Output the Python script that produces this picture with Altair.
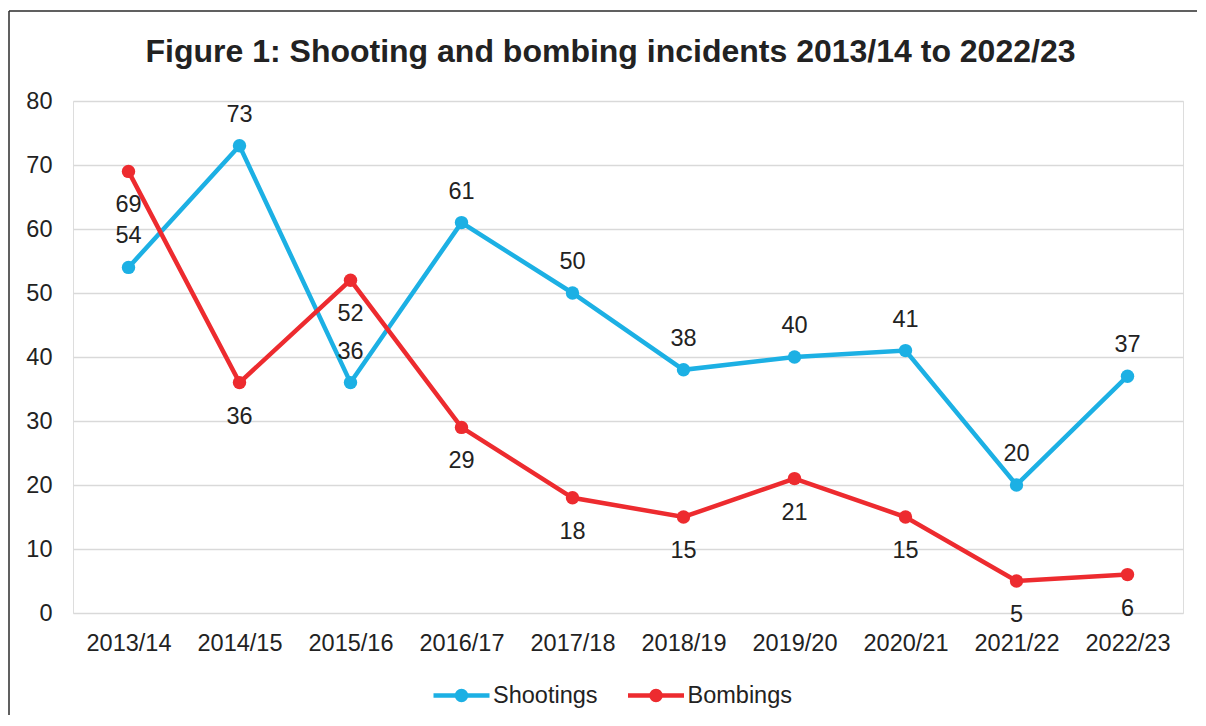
import altair as alt
import pandas as pd

years = ["2013/14", "2014/15", "2015/16", "2016/17", "2017/18",
         "2018/19", "2019/20", "2020/21", "2021/22", "2022/23"]
shootings = [54, 73, 36, 61, 50, 38, 40, 41, 20, 37]
bombings = [69, 36, 52, 29, 18, 15, 21, 15, 5, 6]
series_names = ["Shootings", "Bombings"]
series_colors = ["#1cb0e4", "#ed2b2f"]
y_ticks = [0, 10, 20, 30, 40, 50, 60, 70, 80]
title_text = "Figure 1: Shooting and bombing incidents 2013/14 to 2022/23"

rows = []
for yr, s, b in zip(years, shootings, bombings):
    rows.append({"year": yr, "series": "Shootings", "value": s})
    rows.append({"year": yr, "series": "Bombings", "value": b})
df = pd.DataFrame(rows)

FONT = "Liberation Sans"
TXT = "#222222"
FS = 23.5

x_enc = alt.X("year:N", sort=years, scale=alt.Scale(padding=0.5),
              axis=alt.Axis(title=None, labelAngle=0, domain=False, ticks=False,
                            labelPadding=18, labelFontSize=FS, labelColor=TXT,
                            labelFont=FONT, grid=False))
y_enc = alt.Y("value:Q", scale=alt.Scale(domain=[0, 80], nice=False, zero=True),
              axis=alt.Axis(title=None, values=y_ticks, domain=False, ticks=False,
                            labelPadding=21, labelFontSize=FS, labelColor=TXT,
                            labelFont=FONT, grid=True, gridColor="#d9d9d9",
                            gridWidth=1.5))
cscale = alt.Scale(domain=series_names, range=series_colors)


def circ(r):
    return f"M{r},0A{r},{r},0,1,1,{-r},0A{r},{r},0,1,1,{r},0Z"


sym = "M-2,0L2,0" + circ(0.179) + circ(0.321)

legend = alt.Legend(title=None, orient="none", legendX=372, legendY=578,
                    direction="horizontal", symbolType=sym, symbolSize=784,
                    symbolStrokeWidth=4.5, labelFontSize=FS, labelColor=TXT,
                    labelFont=FONT, labelOffset=15, columnPadding=20.5,
                    padding=0)

base = alt.Chart(df).encode(x=x_enc, y=y_enc)

line_s = base.transform_filter(alt.datum.series == "Shootings").mark_line(
    strokeWidth=4.5).encode(color=alt.Color("series:N", scale=cscale, legend=legend))
line_b = base.transform_filter(alt.datum.series == "Bombings").mark_line(
    strokeWidth=4.5).encode(color=alt.Color("series:N", scale=cscale, legend=None))
pts_s = base.transform_filter(alt.datum.series == "Shootings").mark_circle(
    size=180, opacity=1).encode(color=alt.Color("series:N", scale=cscale, legend=None))
pts_b = base.transform_filter(alt.datum.series == "Bombings").mark_circle(
    size=180, opacity=1).encode(color=alt.Color("series:N", scale=cscale, legend=None))
txt_s = base.transform_filter(alt.datum.series == "Shootings").mark_text(
    dy=-31, baseline="middle", fontSize=FS, font=FONT, color=TXT).encode(text="value:Q")
txt_b = base.transform_filter(alt.datum.series == "Bombings").mark_text(
    dy=34, baseline="middle", fontSize=FS, font=FONT, color=TXT).encode(text="value:Q")

frame_df = pd.DataFrame({"k": [0]})
frame_top = alt.Chart(frame_df).mark_rule(color="#2b2b2b", strokeWidth=1.5).encode(
    x=alt.value(-64), x2=alt.value(1124), y=alt.value(-90), y2=alt.value(-90))
frame_left = alt.Chart(frame_df).mark_rule(color="#2b2b2b", strokeWidth=1.5).encode(
    x=alt.value(-64), x2=alt.value(-64), y=alt.value(-90), y2=alt.value(614))

chart = alt.layer(frame_top, frame_left, line_s, line_b, pts_s, pts_b, txt_s, txt_b).properties(
    width=1110, height=512,
    title=alt.TitleParams(title_text, fontSize=32, font=FONT, fontWeight="bold",
                          color=TXT, anchor="middle", frame="group", dx=-17.5,
                          offset=-59),
    padding={"left": 0, "top": 2, "right": 0, "bottom": 0},
).configure_view(stroke="transparent").configure(background="white")

chart.save("out.html", embed_options={"renderer": "svg", "actions": False})
